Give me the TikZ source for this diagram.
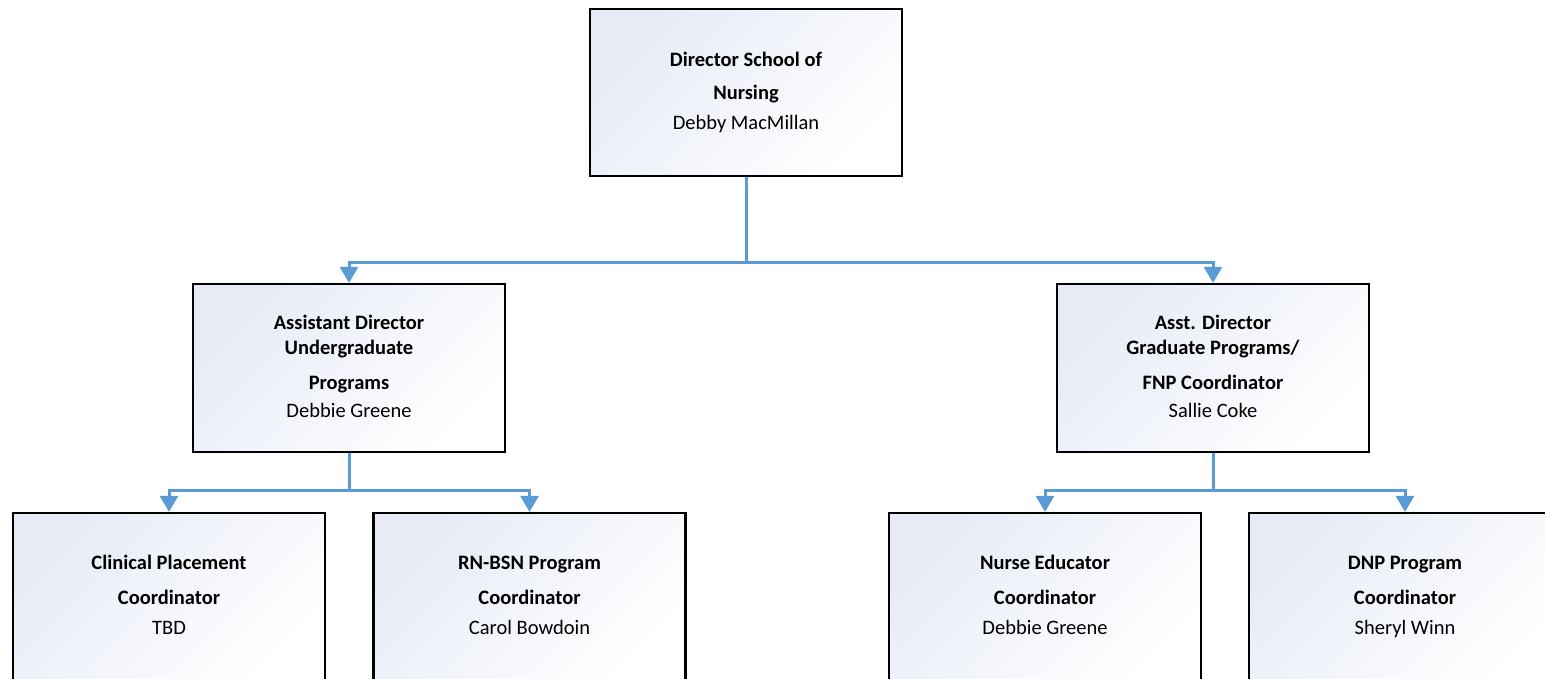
\documentclass[tikz,border=0pt]{standalone}
\usepackage{fontspec}
\setmainfont{Carlito}
\usetikzlibrary{arrows.meta}
\definecolor{conn}{RGB}{91,155,213}
\definecolor{boxtint}{RGB}{230,235,246}
\tikzset{
  orgbox/.style={draw=black, line width=2.2pt, minimum width=312pt, minimum height=168pt,
    inner sep=0pt, align=center, top color=boxtint, bottom color=white, shading angle=45,
    font=\fontsize{20.5}{25}\selectfont},
  link/.style={draw=conn, line width=3pt},
  arrowlink/.style={link, -{Triangle[width=18pt,length=16pt]}},
}
\begin{document}
\begin{tikzpicture}[x=1pt,y=-1pt]
\useasboundingbox (0,0) rectangle (1545,678);
\clip (0,0) rectangle (1545,678);
\node[orgbox, minimum height=167pt] (dir) at (746,92.5)
  {\textbf{Director School of}\strut\\[8pt]\textbf{Nursing}\strut\\[5pt]Debby MacMillan\strut};
\node[orgbox] (ug) at (349,368)
  {\textbf{Assistant Director}\strut\\\textbf{Undergraduate}\strut\\[10pt]\textbf{Programs}\strut\\[3pt]Debbie Greene\strut};
\node[orgbox] (gr) at (1213,368)
  {\textbf{Asst. Director}\strut\\\textbf{Graduate Programs/}\strut\\[10pt]\textbf{FNP Coordinator}\strut\\[3pt]Sallie Coke\strut};
\node[orgbox] (cp) at (169,597)
  {\textbf{Clinical Placement}\strut\\[10pt]\textbf{Coordinator}\strut\\[5pt]TBD\strut};
\node[orgbox] (rn) at (529.5,597)
  {\textbf{RN-BSN Program}\strut\\[10pt]\textbf{Coordinator}\strut\\[5pt]Carol Bowdoin\strut};
\node[orgbox] (ne) at (1045,597)
  {\textbf{Nurse Educator}\strut\\[10pt]\textbf{Coordinator}\strut\\[5pt]Debbie Greene\strut};
\node[orgbox] (dnp) at (1405,597)
  {\textbf{DNP Program}\strut\\[10pt]\textbf{Coordinator}\strut\\[5pt]Sheryl Winn\strut};
\coordinate (j1) at (746,262);
\coordinate (j2) at (349,490);
\coordinate (j3) at (1213,490);
\draw[link] (dir.south) -- (j1);
\draw[arrowlink] (j1) -| (ug.north);
\draw[arrowlink] (j1) -| (gr.north);
\draw[link] (ug.south) -- (j2);
\draw[arrowlink] (j2) -| (cp.north);
\draw[arrowlink] (j2) -| (rn.north);
\draw[link] (gr.south) -- (j3);
\draw[arrowlink] (j3) -| (ne.north);
\draw[arrowlink] (j3) -| (dnp.north);
\end{tikzpicture}
\end{document}
